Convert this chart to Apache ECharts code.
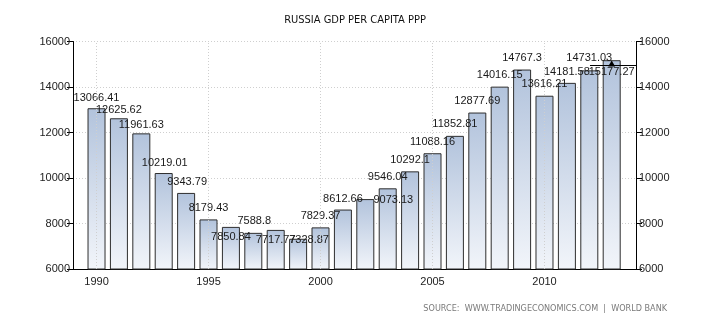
<!DOCTYPE html>
<html>
<head>
<meta charset="utf-8">
<script src="https://cdn.jsdelivr.net/npm/echarts@6/dist/echarts.min.js"></script>
<style>html,body{margin:0;padding:0;background:#fff}#c{width:710px;height:325px}</style>
</head>
<body>
<div id="c"></div>
<script>
const years = [1990,1991,1992,1993,1994,1995,1996,1997,1998,1999,2000,2001,2002,2003,2004,2005,2006,2007,2008,2009,2010,2011,2012,2013];
const gdpPerCapitaPPP = [13066.41,12625.62,11961.63,10219.01,9343.79,8179.43,7850.84,7588.8,7717.77,7328.87,7829.37,8612.66,9073.13,9546.04,10292.1,11088.16,11852.81,12877.69,14016.15,14767.3,13616.21,14181.58,14731.03,15177.27];
const xTickYears = [1990,1995,2000,2005,2010];
const yTicks = [6000,8000,10000,12000,14000,16000];
const markerValue = 14970;
const markerYear = 2013;

// label placement (styling, not data)
const labelOffsets = [[0,1],[0,3],[0,3],[1,1],[1,1],[0,0],[0,22],[1,0],[0,22],[11,13],[0,0],[0,1],[28,12],[0,0],[0,0],[0,0],[0,0],[0,0],[0,0],[0,0],[0,0],[0,1],[0,-1],[0,23.5]];

const xMin = 1988.95, xMax = 2014.085;
const chart = echarts.init(document.getElementById('c'), null, {renderer:'canvas'});
const FONT = '"Liberation Sans", Arial, sans-serif';
const barData = years.map((y,i)=>({value:[y, gdpPerCapitaPPP[i]], label:{offset:labelOffsets[i]}}));

const yAxisCommon = {
  type:'value', min:yTicks[0], max:yTicks[yTicks.length-1], interval:2000,
  axisLine:{show:true, lineStyle:{color:'#000', width:1}},
  axisTick:{show:true, length:6, lineStyle:{color:'#000'}},
  axisLabel:{color:'#222', fontSize:11, fontFamily:FONT, margin:3, formatter:v=>String(v)},
};

chart.setOption({
  animation:false,
  backgroundColor:'#fff',
  title:{text:'RUSSIA GDP PER CAPITA PPP', left:'center', top:10,
    textStyle:{fontSize:11, fontWeight:'normal', color:'#111', fontFamily:'"DejaVu Sans Condensed", sans-serif'}},
  grid:{left:73, right:74, top:41.5, bottom:56, containLabel:false},
  xAxis:{type:'value', min:xMin, max:xMax,
    axisLine:{show:true, onZero:false, lineStyle:{color:'#000', width:1}},
    axisTick:{show:false},
    splitLine:{show:false},
    axisLabel:{customValues:xTickYears, color:'#222', fontSize:11, fontFamily:FONT, margin:7, formatter:v=>String(v)}
  },
  yAxis:[
    Object.assign({}, yAxisCommon, {position:'left', splitLine:{show:true, lineStyle:{color:'#cfcfcf', type:[1,2], width:1}}}),
    Object.assign({}, yAxisCommon, {position:'right', splitLine:{show:false}})
  ],
  graphic:[{type:'text', right:43, top:304, style:{text:'SOURCE:  WWW.TRADINGECONOMICS.COM  |  WORLD BANK', fill:'#7a7a7a', font:'9px "DejaVu Sans Condensed", sans-serif'}}],
  series:[
    {type:'scatter', data:[], z:1, silent:true,
     markLine:{silent:true, symbol:'none', label:{show:false}, animation:false,
       lineStyle:{color:'#cfcfcf', type:[1,2], width:1},
       data:xTickYears.map(y=>({xAxis:y}))}},
    {type:'bar', data:barData, barWidth:18, z:2,
     itemStyle:{borderColor:'#2e2e2e', borderWidth:1,
       color:new echarts.graphic.LinearGradient(0,0,0,1,[{offset:0,color:'#b2c3dc'},{offset:1,color:'#f2f5fa'}])},
     label:{show:true, position:'top', distance:5, color:'#1a1a1a', fontSize:11, lineHeight:13, fontFamily:FONT,
       formatter:p=>String(p.value[1])}},
    {type:'scatter', data:[], z:5, silent:true,
     markLine:{silent:true, symbol:'none', label:{show:false}, animation:false,
       lineStyle:{color:'#000', type:'solid', width:1},
       data:[[{coord:[2012.03, markerValue]},{coord:[xMax, markerValue]}]]},
     markPoint:{silent:true, symbol:'triangle', symbolSize:[7,6], label:{show:false}, itemStyle:{color:'#000'},
       data:[{coord:[markerYear, markerValue+60]}]}}
  ]
});
</script>
</body>
</html>
